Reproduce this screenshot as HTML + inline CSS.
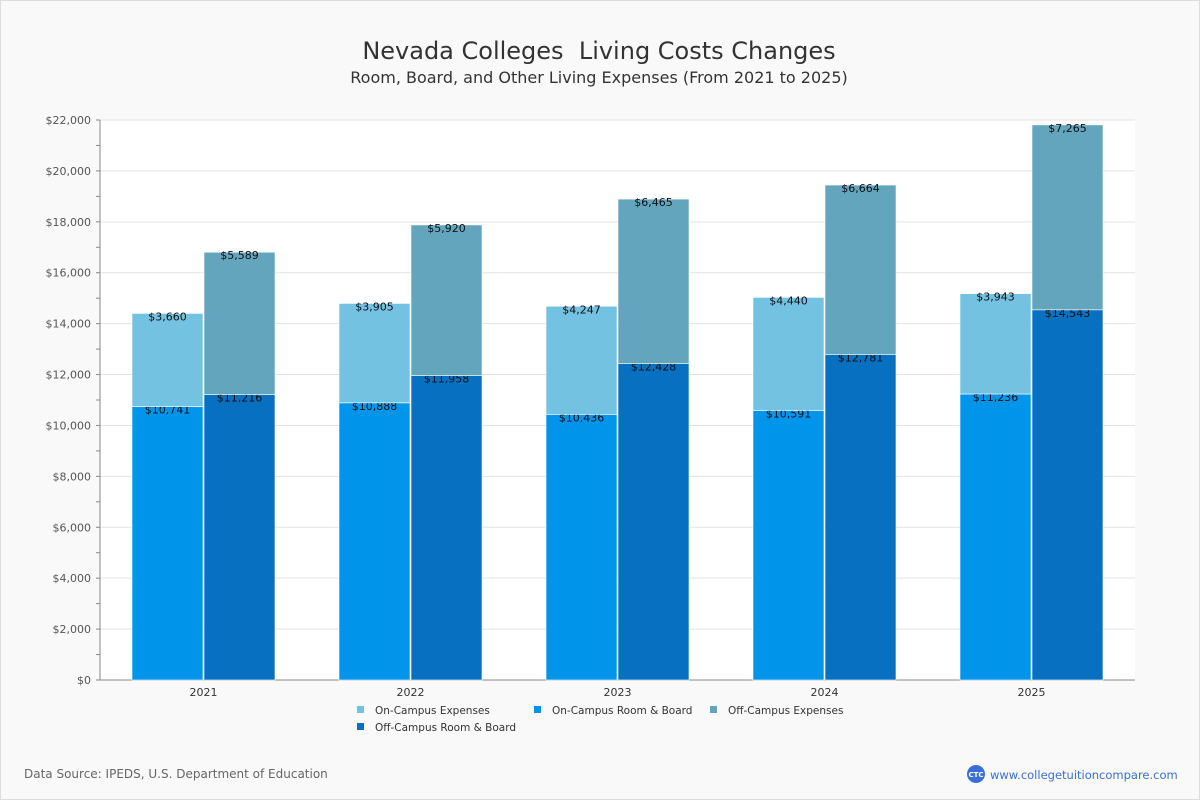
<!DOCTYPE html>
<html><head><meta charset="utf-8"><style>
body{margin:0;background:#fff}
#wrap{width:1198px;height:798px;border:1px solid #ddd;background:#f9f9f9;position:relative;font-family:"DejaVu Sans","Liberation Sans",sans-serif}
</style></head><body>
<div id="wrap">
<svg id="chart" width="1198" height="798" xmlns="http://www.w3.org/2000/svg" font-family="DejaVu Sans, Liberation Sans, sans-serif">
<text x="598" y="58" text-anchor="middle" font-size="24" fill="#333" xml:space="preserve" style="white-space:pre">Nevada Colleges  Living Costs Changes</text>
<text x="598" y="82" text-anchor="middle" font-size="16" fill="#333">Room, Board, and Other Living Expenses (From 2021 to 2025)</text>
<text x="23" y="777" font-size="12" fill="#666">Data Source: IPEDS, U.S. Department of Education</text>
<g><circle cx="975" cy="773" r="9" fill="#3b6fd6"/><text x="975" y="776" text-anchor="middle" font-size="7" fill="#fff" font-weight="bold">CTC</text>
<text x="989" y="778" font-size="11.5" fill="#3b6fd6">www.collegetuitioncompare.com</text></g>
</svg>
</div>
<script>
const years=["2021","2022","2023","2024","2025"];
const onRB=[10741,10888,10436,10591,11236];
const onExp=[3660,3905,4247,4440,3943];
const offRB=[11216,11958,12428,12781,14543];
const offExp=[5589,5920,6465,6664,7265];
const yTicks=[0,2000,4000,6000,8000,10000,12000,14000,16000,18000,20000,22000];
const svg=document.getElementById('chart');const NS="http://www.w3.org/2000/svg";
const X0=99,X1=1134,Y0=679,Y1=119,YMAX=22000;
const y=v=>Y0-(v/YMAX)*(Y0-Y1);
const gw=(X1-X0)/years.length;
function el(t,a,p){const e=document.createElementNS(NS,t);for(const k in a)e.setAttribute(k,a[k]);(p||svg).appendChild(e);return e;}
el('rect',{x:X0,y:Y1,width:X1-X0,height:Y0-Y1,fill:'#fff'});
const fmt=v=>'$'+v.toLocaleString('en-US');
yTicks.forEach(t=>{
 const g=el('line',{x1:X0,x2:X1,y1:y(t),y2:y(t),stroke:'#e3e3e3'});
 
 
 const l=el('text',{x:X0-9,y:y(t)+4,'text-anchor':'end','font-size':11,fill:'#555'});l.textContent=fmt(t);
 
 
 el('line',{x1:X0-4,x2:X0,y1:y(t),y2:y(t),stroke:'#888'});
 if(t<YMAX)el('line',{x1:X0-4,x2:X0,y1:y(t+1000),y2:y(t+1000),stroke:'#888'});
});
el('line',{x1:X0,x2:X0,y1:Y1,y2:Y0,stroke:'#888'});
el('line',{x1:X0,x2:X1,y1:Y0,y2:Y0,stroke:'#888'});
const C={oe:'#73c2e1',orb:'#0095ea',fe:'#62a5bd',frb:'#0870c0'};
function bar(x,base,val,col,name){
 const r=el('rect',{x:x,y:y(base+val),width:71,height:y(base)-y(base+val),fill:col,stroke:'#fff','stroke-width':0.6});
 
 
 const t=el('text',{x:x+35.5,y:y(base+val)+7,'text-anchor':'middle','font-size':11,fill:'#111'});t.textContent=fmt(val);
 
 
}
years.forEach((yr,i)=>{
 const c=X0+gw*(i+0.5);
 bar(c-71.5,0,onRB[i],C.orb,'bar-on-campus-room-board');
 bar(c-71.5,onRB[i],onExp[i],C.oe,'bar-on-campus-expenses');
 bar(c+0.5,0,offRB[i],C.frb,'bar-off-campus-room-board');
 bar(c+0.5,offRB[i],offExp[i],C.fe,'bar-off-campus-expenses');
 const t=el('text',{x:c,y:Y0+16,'text-anchor':'middle','font-size':11,fill:'#333'});t.textContent=yr;
 
 
});
const leg=[["On-Campus Expenses",C.oe,357,709],["On-Campus Room & Board",C.orb,534,709],["Off-Campus Expenses",C.fe,710,709],["Off-Campus Room & Board",C.frb,357,726]];
leg.forEach(l=>{
 const g=el('g',{});
 
 
 el('rect',{x:l[2]-1,y:l[3]-4,width:7,height:7,fill:l[1]},g);
 const t=el('text',{x:l[2]+17,y:l[3]+4,'font-size':10.5,fill:'#333'},g);t.textContent=l[0];
});
</script>
</body></html>
